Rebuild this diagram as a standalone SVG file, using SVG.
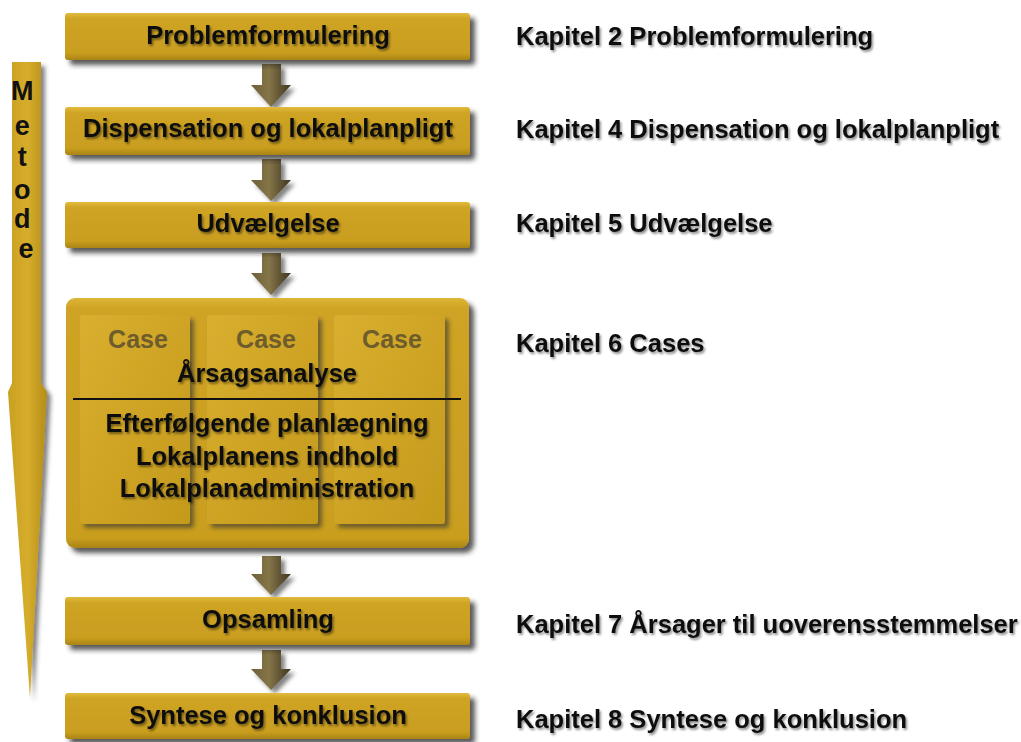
<svg xmlns="http://www.w3.org/2000/svg" width="1021" height="742" viewBox="0 0 1021 742">
<defs>
<linearGradient id="gold" x1="0" y1="0" x2="0" y2="1">
<stop offset="0" stop-color="#e2bb3c"/>
<stop offset="0.12" stop-color="#cfa425"/>
<stop offset="0.85" stop-color="#c99e1f"/>
<stop offset="1" stop-color="#a98414"/>
</linearGradient>
<linearGradient id="goldBig" x1="0" y1="0" x2="0" y2="1">
<stop offset="0" stop-color="#ddb635"/>
<stop offset="0.04" stop-color="#cfa425"/>
<stop offset="0.96" stop-color="#c99e1f"/>
<stop offset="1" stop-color="#a98414"/>
</linearGradient>
<linearGradient id="goldCase" x1="0" y1="0" x2="1" y2="1">
<stop offset="0" stop-color="#d8af30"/>
<stop offset="0.5" stop-color="#cfa425"/>
<stop offset="1" stop-color="#c49a1d"/>
</linearGradient>
<linearGradient id="goldV" x1="0" y1="0" x2="1" y2="0">
<stop offset="0" stop-color="#c9a020"/>
<stop offset="0.5" stop-color="#d6ad2c"/>
<stop offset="1" stop-color="#b48c17"/>
</linearGradient>
<linearGradient id="brown" x1="0" y1="0" x2="1" y2="0">
<stop offset="0" stop-color="#6e5f38"/>
<stop offset="0.45" stop-color="#857548"/>
<stop offset="1" stop-color="#3e3520"/>
</linearGradient>
<filter id="shadow" x="-10%" y="-20%" width="125%" height="150%">
<feDropShadow dx="5" dy="5" stdDeviation="2.5" flood-color="#222" flood-opacity="0.75"/>
</filter>
<filter id="shadowS" x="-10%" y="-10%" width="130%" height="130%">
<feDropShadow dx="4" dy="4" stdDeviation="2" flood-color="#333" flood-opacity="0.6"/>
</filter>
<filter id="tshadow" x="-5%" y="-20%" width="110%" height="150%">
<feDropShadow dx="1.5" dy="2" stdDeviation="1.2" flood-color="#000" flood-opacity="0.45"/>
</filter>
</defs>
<style>
.box{fill:url(#gold);filter:url(#shadow);}
.t{font-family:"Liberation Sans",Arial,sans-serif;font-weight:bold;font-size:25.5px;fill:#111;filter:url(#tshadow);}
.c{text-anchor:middle;}
.case{font-family:"Liberation Sans",Arial,sans-serif;font-weight:bold;font-size:25px;fill:#6e5c2c;text-anchor:middle;}
.arr{fill:url(#brown);filter:url(#shadowS);}
</style>
<rect width="1021" height="742" fill="#fff"/>

<g id="metode">
<polygon points="12,62 41,62 41,383 47,392 30,698 8,392 12,383" fill="url(#goldV)" filter="url(#shadowS)"/>
<text class="t" style="font-size:27px;filter:none" text-anchor="middle">
<tspan x="26" y="100">M</tspan>
<tspan x="26" y="135">e</tspan>
<tspan x="26" y="166">t</tspan>
<tspan x="26" y="199">o</tspan>
<tspan x="26" y="228">d</tspan>
<tspan x="26" y="258">e</tspan>
</text>
</g>

<g id="connectors">
<polygon class="arr" points="262,64 281,64 281,85 291,85 271,107 251,85 262,85"/>
<polygon class="arr" points="262,159 281,159 281,180 291,180 271,201 251,180 262,180"/>
<polygon class="arr" points="262,253 281,253 281,273 291,273 271,295 251,273 262,273"/>
<polygon class="arr" points="262,556 281,556 281,574 291,574 271,595 251,574 262,574"/>
<polygon class="arr" points="262,650 281,650 281,669 291,669 271,690 251,669 262,669"/>
</g>

<g id="n1">
<rect class="box" x="65" y="13" width="405" height="47" rx="3"/>
<text class="t c" x="268" y="44">Problemformulering</text>
</g>
<g id="n2">
<rect class="box" x="65" y="107" width="405" height="48" rx="3"/>
<text class="t c" x="268" y="137">Dispensation og lokalplanpligt</text>
</g>
<g id="n3">
<rect class="box" x="65" y="202" width="405" height="46" rx="3"/>
<text class="t c" x="268" y="232">Udvælgelse</text>
</g>
<g id="n4">
<rect x="66" y="298" width="403" height="250" rx="9" fill="url(#goldBig)" filter="url(#shadow)"/>
<rect x="80" y="315" width="110" height="209" rx="3" fill="url(#goldCase)" filter="url(#shadowS)"/>
<rect x="207" y="315" width="111" height="209" rx="3" fill="url(#goldCase)" filter="url(#shadowS)"/>
<rect x="334" y="315" width="111" height="209" rx="3" fill="url(#goldCase)" filter="url(#shadowS)"/>
<text class="case" x="138" y="348">Case</text>
<text class="case" x="266" y="348">Case</text>
<text class="case" x="392" y="348">Case</text>
<text class="t c" x="267" y="382">Årsagsanalyse</text>
<line x1="73" y1="399" x2="461" y2="399" stroke="#111" stroke-width="2"/>
<text class="t c" x="267" y="432">Efterfølgende planlægning</text>
<text class="t c" x="267" y="465">Lokalplanens indhold</text>
<text class="t c" x="267" y="497">Lokalplanadministration</text>
</g>
<g id="n5">
<rect class="box" x="65" y="597" width="405" height="48" rx="3"/>
<text class="t c" x="268" y="628">Opsamling</text>
</g>
<g id="n6">
<rect class="box" x="65" y="693" width="405" height="46" rx="3"/>
<text class="t c" x="268" y="724">Syntese og konklusion</text>
</g>

<g id="chapters">
<text class="t" x="516" y="45">Kapitel 2 Problemformulering</text>
<text class="t" x="516" y="138">Kapitel 4 Dispensation og lokalplanpligt</text>
<text class="t" x="516" y="232">Kapitel 5 Udvælgelse</text>
<text class="t" x="516" y="352">Kapitel 6 Cases</text>
<text class="t" x="516" y="633">Kapitel 7 Årsager til uoverensstemmelser</text>
<text class="t" x="516" y="728">Kapitel 8 Syntese og konklusion</text>
</g>
</svg>
